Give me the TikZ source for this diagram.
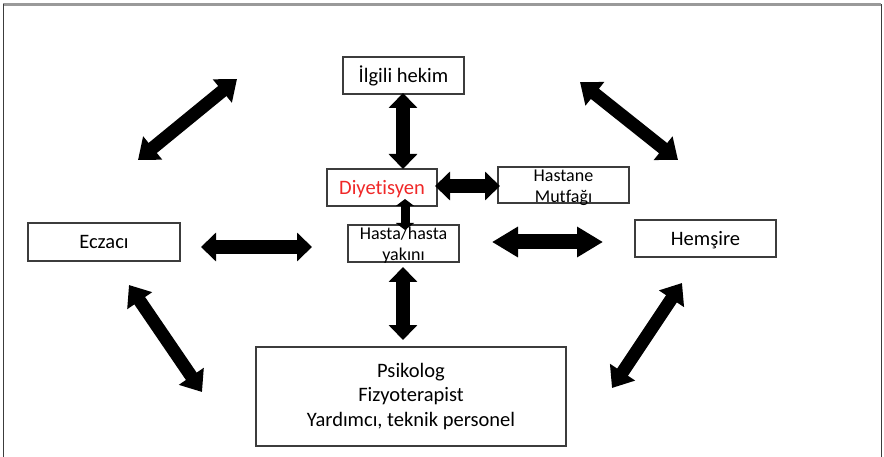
\documentclass[tikz,border=0pt]{standalone}
\usepackage{fontspec}
\setmainfont{Carlito}[Ligatures=CommonOff]
\usetikzlibrary{arrows.meta}
\definecolor{boxline}{HTML}{3C3C3C}
\definecolor{frametop}{HTML}{9A9A9A}
\definecolor{dietred}{HTML}{F02828}
\begin{document}
\begin{tikzpicture}[x=1pt,y=-1pt,
  box/.style={draw=boxline, line width=1.1pt, fill=white, inner sep=0pt,
    font=\fontsize{20.5}{24.5}\selectfont, align=center},
  oneline/.style={text height=13.2pt, text depth=0pt},
  lbl/.style={font=\fontsize{18}{21.5}\selectfont, align=center, inner sep=0pt, anchor=north},
  bigarrow/.style={line width=14pt,
    {Triangle[width=28pt,length=15pt]}-{Triangle[width=28pt,length=15pt]}},
  diagarrow/.style={line width=13pt,
    {Triangle[width=29pt,length=19pt]}-{Triangle[width=29pt,length=19pt]}},
  longhead/.style={line width=15pt,
    {Triangle[width=29pt,length=26pt]}-{Triangle[width=29pt,length=26pt]}},
  thinarrow/.style={line width=9pt,
    {Triangle[width=18pt,length=7pt]}-{Triangle[width=18pt,length=7pt]}}
]
\useasboundingbox (0,0) rectangle (884,457);

% open frame: grey top edge, dark sides
\draw[frametop, line width=2.5pt] (3,4.5) -- (881,4.5);
\draw[boxline, line width=1pt] (3,4.5) -- (3,457) (881,4.5) -- (881,457);

% boxes
\node[box, oneline, minimum width=121pt, minimum height=37pt] (hekim) at (403.5,75.5) {İlgili hekim};
\node[box, oneline, minimum width=110pt, minimum height=37pt, text=dietred] (diyet) at (382,187.5) {Diyetisyen};
\node[box, minimum width=131pt, minimum height=36pt] (mutfak) at (563.5,185) {};
\node[box, minimum width=111pt, minimum height=37pt] (hasta) at (403.5,243.5) {};
\node[box, oneline, minimum width=152pt, minimum height=38pt] (eczaci) at (104,242) {Eczacı};
\node[box, oneline, minimum width=141pt, minimum height=37pt] (hemsire) at (705.5,238.5) {Hemşire};
\node[box, minimum width=310pt, minimum height=99pt] (ekip) at (411,396.5)
  {Psikolog\\Fizyoterapist\\Yardımcı, teknik personel};

% arrow end points
\coordinate (a1s) at (138,160); \coordinate (a1e) at (237,79);
\coordinate (a2s) at (580,82);  \coordinate (a2e) at (678,160);
\coordinate (a3s) at (129,285); \coordinate (a3e) at (202,392);
\coordinate (a4s) at (682,283); \coordinate (a4e) at (612,388);
\coordinate (a5s) at (201,247); \coordinate (a5e) at (312,247);
\coordinate (a6s) at (492,242); \coordinate (a6e) at (603,242);
\coordinate (a7s) at (435,186); \coordinate (a7e) at (500,186);
\coordinate (a8s) at (403,93);  \coordinate (a8e) at (403,169);
\coordinate (a9s) at (405,199); \coordinate (a9e) at (405,230);
\coordinate (a10s) at (403,267); \coordinate (a10e) at (403,340);

% double-headed block arrows
\draw[diagarrow] (a1s) -- (a1e);
\draw[diagarrow] (a2s) -- (a2e);
\draw[diagarrow] (a3s) -- (a3e);
\draw[diagarrow] (a4s) -- (a4e);
\draw[bigarrow] (a5s) -- (a5e);
\draw[longhead] (a6s) -- (a6e);
\draw[bigarrow] (a7s) -- (a7e);
\draw[bigarrow] (a8s) -- (a8e);
\draw[thinarrow] (a9s) -- (a9e);
\draw[bigarrow] (a10s) -- (a10e);

% two-line labels set lower in their boxes
\node[lbl] (mutfaktxt) at (563.5,169.5) {Hastane\\Mutfağı};
\node[lbl] (hastatxt) at (403.5,226.5) {Hasta/hasta\\yakını};
\end{tikzpicture}
\end{document}
